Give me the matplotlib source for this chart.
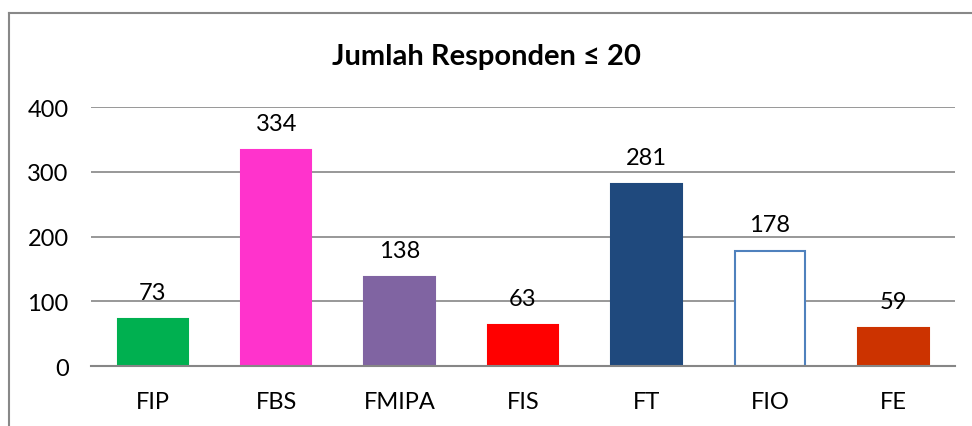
import matplotlib.pyplot as plt
from matplotlib.lines import Line2D

fakultas = ['FIP', 'FBS', 'FMIPA', 'FIS', 'FT', 'FIO', 'FE']
jumlah = [73, 334, 138, 63, 281, 178, 59]
warna = ['#00B050', '#FF33CC', '#8064A2', '#FF0000', '#1F497D', '#FFFFFF', '#CC3300']
tepi = ['#00B050', '#FF33CC', '#8064A2', '#FF0000', '#1F497D', '#4F81BD', '#CC3300']
yticks = [0, 100, 200, 300, 400]

plt.rcParams['font.family'] = ['Lato', 'DejaVu Sans']

fig = plt.figure(figsize=(9.72, 4.27), dpi=100)
ax = fig.add_axes([0.0936, 0.1405, 0.889, 0.6065])

x = range(len(fakultas))
ax.bar(x, jumlah, width=0.57, color=warna, edgecolor=tepi, linewidth=1.5, zorder=3)

for i, v in enumerate(jumlah):
    ax.annotate(str(v), (i, v), textcoords='offset points', xytext=(0, 19),
                ha='center', va='center', fontsize=17, color='black', zorder=4)

ax.set_xlim(-0.5, len(fakultas) - 0.5)
ax.set_ylim(0, 400)
ax.set_yticks(yticks)
ax.set_xticks(list(x))
ax.set_xticklabels(fakultas)
ax.tick_params(axis='both', length=0, labelsize=17)
ax.tick_params(axis='y', pad=16)
ax.tick_params(axis='x', pad=18)
ax.grid(axis='y', color='#868686', linewidth=1.2, zorder=0)
for s in ['left', 'right', 'top']:
    ax.spines[s].set_visible(False)
ax.spines['bottom'].set_color('#868686')
ax.spines['bottom'].set_linewidth(1.5)
ax.spines['bottom'].set_zorder(5)

fig.text(0.5, 1 - 57 / 427, 'Jumlah Responden ≤ 20', ha='center', va='center',
         fontsize=21, fontweight='bold')

# bingkai grafik
fig.add_artist(Line2D([8.5 / 972, 8.5 / 972], [0, 1 - 14 / 427], color='#888888', linewidth=1.5))
fig.add_artist(Line2D([8.5 / 972, 1], [1 - 14 / 427, 1 - 14 / 427], color='#888888', linewidth=1.5))

fig.savefig('out.png', dpi=100)
